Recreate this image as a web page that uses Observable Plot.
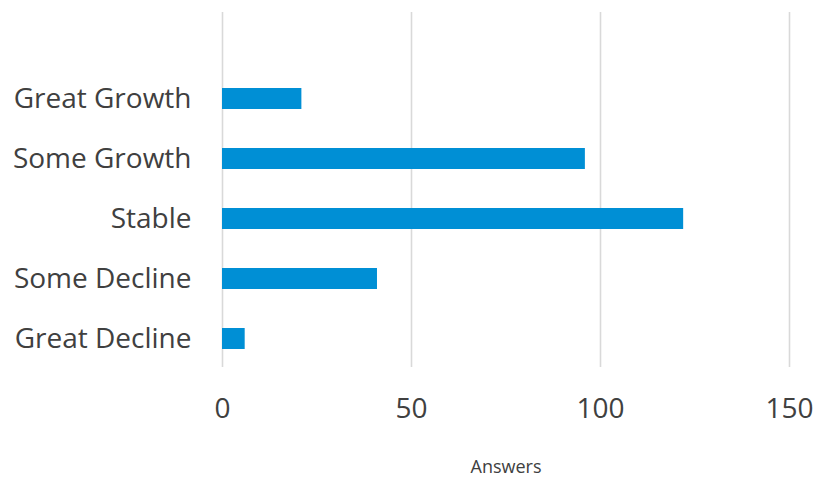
<!DOCTYPE html>
<html>
<head>
<meta charset="utf-8">
<script src="https://cdn.jsdelivr.net/npm/d3@7"></script>
<script src="https://cdn.jsdelivr.net/npm/@observablehq/plot@0.6"></script>
<style>
  html, body { margin: 0; padding: 0; background: #fff; }
  #chart svg { display: block; }
</style>
</head>
<body>
<div id="chart"></div>
<script>
// Survey answers per outlook category
const categories = ["Great Growth", "Some Growth", "Stable", "Some Decline", "Great Decline"];
const answers = [21, 96, 122, 41, 6];
const xTicks = [0, 50, 100, 150];
const xLabel = "Answers";

const data = categories.map((c, i) => ({category: c, answers: answers[i]}));

const chart = Plot.plot({
  width: 815,
  height: 478,
  marginLeft: 222,
  marginRight: 26,
  marginTop: 12,
  marginBottom: 111,
  style: {fontFamily: "'Open Sans', sans-serif", color: "#404040", background: "#fff"},
  x: {domain: [0, 150], ticks: xTicks},
  y: {domain: categories, range: [68, 368], paddingInner: 0.65, paddingOuter: 0.325},
  marks: [
    Plot.gridX(xTicks, {stroke: "#d9d9d9", strokeOpacity: 1, strokeWidth: 1.6}),
    Plot.barX(data, {x: "answers", y: "category", fill: "#008FD5"}),
    Plot.axisY({tickSize: 0, tickPadding: 31, fontSize: 28, label: null, fill: "#404040"}),
    Plot.axisX(xTicks, {tickSize: 0, tickPadding: 31, fontSize: 28, label: null, fill: "#404040"}),
    Plot.text([xLabel], {frameAnchor: "bottom", dy: 105, fontSize: 18, fill: "#404040"})
  ]
});

document.getElementById("chart").appendChild(chart);
</script>
</body>
</html>
